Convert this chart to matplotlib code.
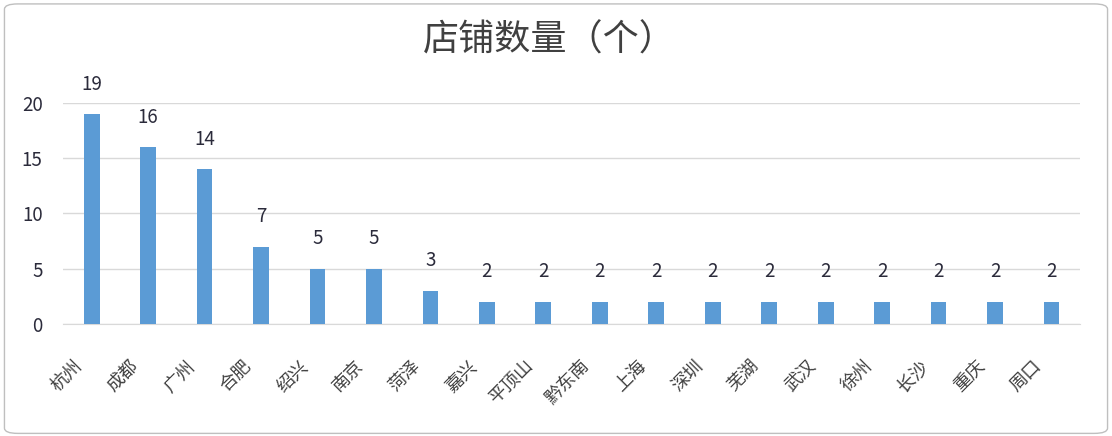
import matplotlib.pyplot as plt
from matplotlib.patches import FancyBboxPatch
import numpy as np

plt.rcParams['font.family'] = ['Noto Sans CJK SC', 'DejaVu Sans']

cities = ["杭州", "成都", "广州", "合肥", "绍兴", "南京", "菏泽", "嘉兴", "平顶山",
          "黔东南", "上海", "深圳", "芜湖", "武汉", "徐州", "长沙", "重庆", "周口"]
counts = [19, 16, 14, 7, 5, 5, 3, 2, 2, 2, 2, 2, 2, 2, 2, 2, 2, 2]

bar_color = "#5b9bd5"
text_color = "#404040"

fig = plt.figure(figsize=(11.12, 4.36), dpi=100)
ax = fig.add_axes([0.057, 0.257, 0.914, 0.507])

index = np.arange(len(cities))
rects = ax.bar(index, counts, 0.28, color=bar_color, zorder=3)
for r, c in zip(rects, counts):
  ax.annotate(str(c), (r.get_x() + r.get_width()/2, c), xytext=(0, 14),
              textcoords="offset points", ha="center", va="bottom",
              fontsize=13.5, color="#2b2b3b", annotation_clip=False)

ax.set_xlim(-0.5, len(cities) - 0.5)
ax.set_ylim(0, 20)
ax.set_yticks([0, 5, 10, 15, 20])
ax.yaxis.grid(True, color="#d9d9d9", linewidth=1, zorder=0)
ax.set_xticks(index)
ax.set_xticklabels([])
# slanted category labels, placed a little left of each bar like the original
for i, name in zip(index, cities):
  ax.annotate(name, (i, 0), xycoords=("data", "axes fraction"),
              xytext=(-4.5, -33), textcoords="offset points",
              rotation=45, ha="right", va="bottom", rotation_mode="anchor",
              fontsize=13, color=text_color, annotation_clip=False)
ax.tick_params(axis="y", length=0, labelsize=13.5, labelcolor="#2b2b3b", pad=15)
ax.tick_params(axis="x", length=0)
for s in ["top", "right", "left"]:
  ax.spines[s].set_visible(False)
ax.spines["bottom"].set_color("#d9d9d9")

fig.text(0.494, 0.907, "店铺数量（个）", ha="center", va="center",
         fontsize=26, color=text_color)

border = FancyBboxPatch((0.004, 0.006), 0.992, 0.985, boxstyle="round,pad=0,rounding_size=0.012",
                        transform=fig.transFigure, fill=False, edgecolor="#bfbfbf", linewidth=1)
fig.patches.append(border)

fig.savefig("out.png", dpi=100)
